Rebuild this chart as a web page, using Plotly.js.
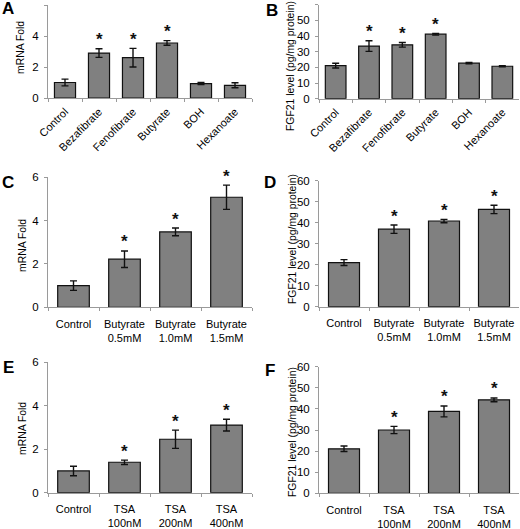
<!DOCTYPE html>
<html>
<head>
<meta charset="utf-8">
<script src="https://cdn.plot.ly/plotly-3.0.1.min.js"></script>
<style>
  html, body { margin: 0; padding: 0; background: #fff; }
  #chart { width: 520px; height: 529px; }
</style>
</head>
<body>
<div id="chart"></div>
<script>
// panel A / B : agents
var agentLabels = ['Control', 'Bezafibrate', 'Fenofibrate', 'Butyrate', 'BOH', 'Hexanoate'];
var agentMrna = [1.0, 2.9, 2.6, 3.55, 0.93, 0.82];
var agentMrnaErr = [0.22, 0.28, 0.6, 0.15, 0.07, 0.16];
var agentFgf = [21.1, 33.6, 34.4, 41.2, 22.7, 20.7];
var agentFgfErr = [1.5, 3.4, 1.5, 0.5, 0.4, 0.4];
var agentSig = [false, true, true, true, false, false];

// panel C / D : butyrate dose
var butLabels = ['Control', 'Butyrate<br>0.5mM', 'Butyrate<br>1.0mM', 'Butyrate<br>1.5mM'];
var butMrna = [1.0, 2.22, 3.48, 5.08];
var butMrnaErr = [0.22, 0.38, 0.18, 0.56];
var butFgf = [21.0, 36.9, 40.8, 46.3];
var butFgfErr = [1.4, 2.0, 0.8, 2.0];
var butSig = [false, true, true, true];

// panel E / F : TSA dose
var tsaLabels = ['Control', 'TSA<br>100nM', 'TSA<br>200nM', 'TSA<br>400nM'];
var tsaMrna = [1.0, 1.4, 2.46, 3.11];
var tsaMrnaErr = [0.22, 0.1, 0.42, 0.27];
var tsaFgf = [21.1, 30.0, 38.8, 44.3];
var tsaFgfErr = [1.3, 1.7, 2.6, 0.9];
var tsaSig = [false, true, true, true];

var FONT = 'Liberation Sans, Arial, sans-serif';
var AXIS_GRAY = '#9a9a9a';

function barTrace(labels, vals, errs, n) {
    return {
        type: 'bar',
        x: labels,
        y: vals,
        width: 0.62,
        xaxis: 'x' + n,
        yaxis: 'y' + n,
        marker: { color: '#808080', line: { color: '#111', width: 1.2 } },
        error_y: { type: 'data', array: errs, visible: true, color: '#111', thickness: 1.4, width: 3.5 },
        hoverinfo: 'none'
    };
}

var annotations = [];

// significance stars sit a little above the top of the error bar
function addStars(labels, vals, errs, sig, n) {
    for (var i = 0; i < labels.length; i++) {
        if (!sig[i]) continue;
        annotations.push({
            text: '<b>*</b>',
            xref: 'x' + n, yref: 'y' + n,
            x: labels[i], y: vals[i] + errs[i],
            xanchor: 'center', yanchor: 'middle',
            yshift: 9,
            showarrow: false,
            font: { family: FONT, size: 17, color: '#111' }
        });
    }
}

var data = [
    barTrace(agentLabels, agentMrna, agentMrnaErr, ''),
    barTrace(agentLabels, agentFgf, agentFgfErr, 2),
    barTrace(butLabels, butMrna, butMrnaErr, 3),
    barTrace(butLabels, butFgf, butFgfErr, 4),
    barTrace(tsaLabels, tsaMrna, tsaMrnaErr, 5),
    barTrace(tsaLabels, tsaFgf, tsaFgfErr, 6)
];
addStars(agentLabels, agentMrna, agentMrnaErr, agentSig, '');
addStars(agentLabels, agentFgf, agentFgfErr, agentSig, 2);
addStars(butLabels, butMrna, butMrnaErr, butSig, 3);
addStars(butLabels, butFgf, butFgfErr, butSig, 4);
addStars(tsaLabels, tsaMrna, tsaMrnaErr, tsaSig, 5);
addStars(tsaLabels, tsaFgf, tsaFgfErr, tsaSig, 6);

function xAxis(dom, anchor, angle, nCat) {
    return {
        domain: dom,
        anchor: anchor,
        type: 'category',
        range: [-0.5, nCat - 0.5],
        showline: true,
        linecolor: AXIS_GRAY,
        linewidth: 1,
        ticks: 'outside',
        tickson: 'boundaries',
        ticklen: 3,
        tickcolor: AXIS_GRAY,
        tickangle: angle,
        ticklabelstandoff: angle ? 2 : 6,
        tickfont: { family: FONT, size: 11, color: '#000' },
        showgrid: false,
        zeroline: false,
        fixedrange: true
    };
}

function yAxis(dom, anchor, top, step) {
    return {
        domain: dom,
        anchor: anchor,
        range: [0, top],
        dtick: step,
        showline: true,
        linecolor: AXIS_GRAY,
        linewidth: 1,
        ticks: 'outside',
        ticklen: 3,
        tickcolor: AXIS_GRAY,
        ticklabelstandoff: 3,
        tickfont: { family: FONT, size: 11.5, color: '#000' },
        showgrid: false,
        zeroline: false,
        fixedrange: true
    };
}

var leftX = [48 / 520, 252 / 520];
var rightX = [319 / 520, 519 / 520];
var mrnaTitle = 'mRNA Fold';
var fgfTitle = 'FGF21 level (pg/mg protein)';

// y titles as rotated text: [text, x px, y px (centre)]
var yTitles = [
    [mrnaTitle, 21, 48], [fgfTitle, 291, 66],
    [mrnaTitle, 22, 246], [fgfTitle, 292, 239],
    [mrnaTitle, 22, 429], [fgfTitle, 292, 432]
];
yTitles.forEach(function(t) {
    annotations.push({
        text: t[0],
        xref: 'paper', yref: 'paper',
        x: t[1] / 520, y: 1 - t[2] / 529,
        xanchor: 'center', yanchor: 'middle',
        textangle: -90,
        showarrow: false,
        font: { family: FONT, size: 10.4, color: '#000' }
    });
});

// panel letters
var letters = [['A', 8, 8], ['B', 272, 11], ['C', 8, 183], ['D', 270, 183], ['E', 8, 367], ['F', 270, 370]];
letters.forEach(function(l) {
    annotations.push({
        text: '<b>' + l[0] + '</b>',
        xref: 'paper', yref: 'paper',
        x: l[1] / 520, y: 1 - l[2] / 529,
        xanchor: 'center', yanchor: 'middle',
        showarrow: false,
        font: { family: FONT, size: 17, color: '#000' }
    });
});

var layout = {
    width: 520,
    height: 529,
    margin: { l: 0, r: 0, t: 0, b: 0 },
    paper_bgcolor: '#fff',
    plot_bgcolor: 'rgba(0,0,0,0)',
    showlegend: false,
    font: { family: FONT, color: '#000' },
    xaxis:  xAxis(leftX, 'y', -45, 6),
    yaxis:  yAxis([1 - 98 / 529, 1 - 5 / 529], 'x', 6, 2),
    xaxis2: xAxis(rightX, 'y2', -45, 6),
    yaxis2: yAxis([1 - 98.7 / 529, 1 - 4.7 / 529], 'x2', 60, 10),
    xaxis3: xAxis(leftX, 'y3', 0, 4),
    yaxis3: yAxis([1 - 307.3 / 529, 1 - 177.3 / 529], 'x3', 6, 2),
    xaxis4: xAxis(rightX, 'y4', 0, 4),
    yaxis4: yAxis([1 - 306.7 / 529, 1 - 180.7 / 529], 'x4', 60, 10),
    xaxis5: xAxis(leftX, 'y5', 0, 4),
    yaxis5: yAxis([1 - 492.7 / 529, 1 - 362.3 / 529], 'x5', 6, 2),
    xaxis6: xAxis(rightX, 'y6', 0, 4),
    yaxis6: yAxis([1 - 493.3 / 529, 1 - 366.7 / 529], 'x6', 60, 10),
    annotations: annotations
};

Plotly.newPlot(document.getElementById('chart'), data, layout, { staticPlot: true });
</script>
</body>
</html>
